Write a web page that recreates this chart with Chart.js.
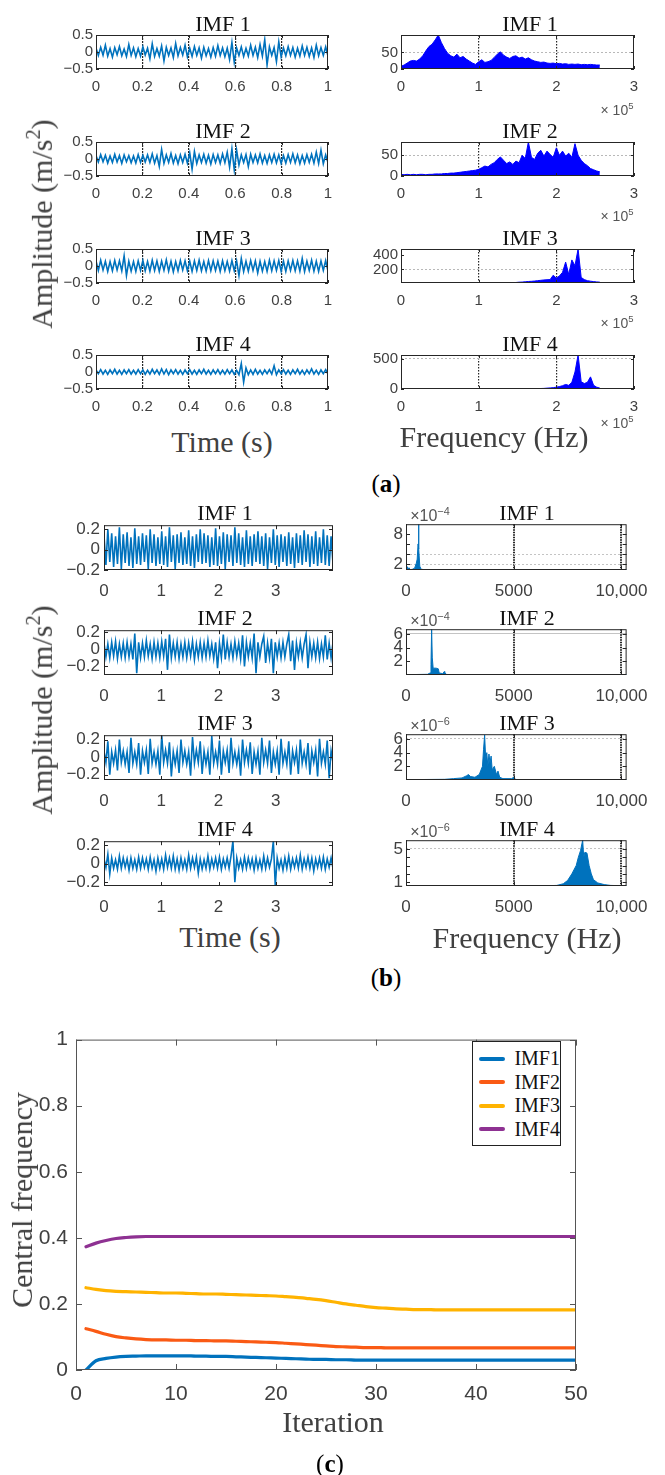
<!DOCTYPE html>
<html>
<head>
<meta charset="utf-8">
<script src="https://cdn.jsdelivr.net/npm/chart.js@4.4.1/dist/chart.umd.min.js"></script>
<style>
  html, body { margin: 0; padding: 0; background: #fff; }
  #page { position: relative; width: 665px; height: 1475px; overflow: hidden; }
  canvas { position: absolute; }
  .txt { position: absolute; white-space: nowrap; transform: translate(-50%, -50%); line-height: 1;
         font-family: 'Liberation Serif', 'DejaVu Serif', serif; color: #404040; }
  .ttl { font-size: 22px; color: #111; }
  .lab { font-size: 30px; }
  .vert { transform: translate(-50%, -50%) rotate(-90deg); }
  .tag { font-size: 25px; color: #000; }
  .exp { font-family: 'Liberation Sans', sans-serif; font-size: 14px; color: #555; }
  .exp.big { font-size: 16px; }
  sup { font-size: 0.68em; vertical-align: 0.6em; }
  #legend { position: absolute; left: 472px; top: 1041px; width: 89px; height: 105px; box-sizing: border-box;
            border: 1px solid #222; background: #fff; padding-top: 5px; }
  #legend .row { height: 23.5px; display: flex; align-items: center; }
  #legend .sw { width: 29px; height: 4px; border-radius: 2px; margin-left: 6px; }
  #legend .nm { margin-left: 9px; font: 20px 'Liberation Serif', serif; color: #111; }
</style>
</head>
<body>
<div id="page"></div>
<script>
// (a) IMF time series, 0-1 s
const aTime1 = [.12,-.1,.14,-.09,.2,-.12,.1,-.15,.13,-.08,.16,-.11,.09,-.13,.22,-.1,.12,-.14,.1,-.12,
  .15,-.09,.11,-.2,.24,-.13,.1,-.12,.18,-.26,.14,-.1,.12,-.16,.25,-.11,.13,-.09,.2,-.14,
  .11,-.13,.16,-.1,.12,-.18,.14,-.11,.1,-.15,.13,-.12,.19,-.1,.12,-.14,.11,-.22,.28,-.3,
  .12,-.1,.15,-.13,.11,-.12,.2,-.1,.14,-.16,.22,-.12,.36,-.38,.15,-.1,.13,-.28,.3,-.14,
  .12,-.11,.16,-.1,.13,-.15,.11,-.12,.18,-.1,.14,-.13,.12,-.16,.2,-.11,.13,-.1,.15,-.12];
const aTime2 = [.1,-.09,.13,-.08,.11,-.12,.09,-.1,.14,-.09,.1,-.13,.12,-.08,.1,-.11,.09,-.12,.13,-.1,
  .11,-.09,.12,-.1,.15,-.12,.1,-.22,.28,-.13,.12,-.1,.16,-.12,.1,-.14,.12,-.1,.14,-.12,
  .18,-.3,.22,-.13,.12,-.1,.14,-.12,.11,-.15,.13,-.1,.12,-.13,.15,-.11,.2,-.24,.3,-.32,
  .26,-.18,.12,-.1,.13,-.22,.14,-.1,.12,-.11,.15,-.12,.1,-.13,.12,-.1,.14,-.11,.12,-.13,
  .1,-.12,.13,-.1,.15,-.11,.12,-.14,.1,-.12,.13,-.1,.14,-.12,.2,-.13,.26,-.14,.12,-.1];
const aTime3 = [.15,-.13,.17,-.12,.14,-.16,.13,-.14,.16,-.12,.15,-.14,.3,-.28,.14,-.15,.13,-.16,.15,-.13,
  .16,-.14,.13,-.15,.17,-.13,.15,-.16,.14,-.13,.18,-.15,.14,-.17,.13,-.14,.16,-.12,.15,-.14,
  .14,-.16,.15,-.13,.17,-.14,.13,-.15,.16,-.14,.15,-.13,.14,-.16,.15,-.14,.13,-.15,.16,-.14,
  .15,-.28,.22,-.16,.14,-.15,.16,-.13,.15,-.2,.14,-.15,.13,-.16,.17,-.14,.15,-.13,.16,-.15,
  .14,-.16,.15,-.13,.16,-.14,.15,-.15,.22,-.16,.14,-.13,.17,-.15,.14,-.16,.15,-.13,.16,-.15];
const aTime4 = [.06,-.05,.07,-.06,.05,-.07,.06,-.05,.08,-.06,.05,-.07,.06,-.05,.07,-.06,.05,-.06,.07,-.05,
  .06,-.07,.05,-.06,.08,-.05,.06,-.07,.09,-.06,.07,-.08,.06,-.05,.07,-.06,.05,-.07,.06,-.05,
  .07,-.06,.05,-.07,.06,-.05,.08,-.06,.05,-.07,.06,-.05,.07,-.06,.05,-.06,.07,-.05,.06,-.07,
  .05,-.08,.25,-.3,.12,-.08,.06,-.07,.08,-.06,.05,-.07,.06,-.05,.07,-.06,.18,-.08,.06,-.05,
  .07,-.06,.05,-.07,.06,-.05,.08,-.06,.05,-.07,.06,-.05,.09,-.06,.05,-.07,.06,-.05,.07,-.06];

// (a) spectra, one value per 4 kHz bin from 0 to 256 kHz
const aSpecBin = 4000;
const aSpec1 = [8,12,18,24,26,24,30,40,55,68, 75,88,103,80,62,48,40,36,45,34,
  38,30,24,18,14,22,28,20,22,26, 35,45,52,42,36,32,38,40,33,36,
  30,34,28,24,22,20,21,18,17,18, 16,17,15,16,14,15,14,15,13,14, 13,14,13,12,12];
const aSpec2 = [4,3,4,3,4,3,4,4,3,4, 4,5,5,5,6,6,7,7,8,9,
  10,11,12,13,14,16,20,24,22,28, 32,40,46,38,30,34,28,36,32,50,
  42,82,45,40,55,62,48,60,52,45, 68,50,60,48,55,45,78,50,38,30, 25,18,15,12,10];
const aSpec3 = [14,14,14,14,14,14,14,14,14,14, 14,14,14,14,14,14,14,14,14,14,
  14,14,14,14,14,14,14,14,14,14, 14,14,14,15,16,17,18,20,24,26,
  30,34,36,40,45,50,55,58,60,120, 80,110,160,300,130,330,250,480,90,60, 45,38,32,28,25];
const aSpec4 = [2,2,2,2,2,2,2,2,2,2, 2,2,2,2,2,2,2,2,2,2,
  2,2,2,2,2,2,2,2,2,2, 2,2,2,2,2,2,2,2,2,2,
  2,3,4,5,6,8,10,14,18,22, 30,40,55,75,60,110,280,560,120,90, 110,200,60,30,15];

// (b) IMF time series, 0-4 s
const bTime1 = [.14,-.15,.2,-.12,.16,-.17,.13,-.14,.22,-.19,.15,-.13,.17,-.16,.12,-.18,.21,-.14,.13,-.15,
  .16,-.12,.14,-.19,.2,-.13,.15,-.16,.12,-.14,.18,-.15,.13,-.17,.22,-.12,.14,-.19,.15,-.13,
  .17,-.15,.12,-.14,.19,-.16,.13,-.18,.15,-.12,.2,-.14,.16,-.13,.14,-.17,.12,-.15,.21,-.16,
  .13,-.14,.17,-.19,.15,-.12,.14,-.16,.22,-.13,.16,-.15,.12,-.17,.19,-.14,.13,-.16,.15,-.12,
  .18,-.14,.13,-.16,.16,-.19,.12,-.13,.2,-.15,.14,-.17,.15,-.12,.13,-.16,.17,-.14,.12,-.18,
  .16,-.13,.14,-.15,.19,-.12,.15,-.17,.13,-.14,.18,-.16,.12,-.13,.2,-.15,.14,-.16,.13,-.14];
const bTime2 = [.07,-.09,.06,-.1,.08,-.08,.09,-.11,.06,-.09,.07,-.1,.08,-.09,.06,-.12,.18,-.28,.08,-.1,
  .07,-.09,.1,-.08,.06,-.11,.08,-.09,.07,-.1,.09,-.08,.12,-.24,.17,-.1,.07,-.09,.08,-.11,
  .06,-.09,.08,-.1,.07,-.08,.09,-.12,.06,-.09,.08,-.1,.07,-.09,.1,-.08,.06,-.11,.08,-.22,
  .07,-.1,.17,-.12,.08,-.09,.06,-.1,.09,-.08,.07,-.11,.16,-.2,.08,-.09,.07,-.1,.18,-.28,
  .08,-.09,.06,.15,-.16,.07,-.1,.12,-.28,.08,-.09,.07,-.1,.08,-.09,.06,.17,-.14,.1,-.24,
  .07,-.09,.08,-.1,.06,.17,-.22,.08,-.09,.07,-.1,.08,-.11,.06,-.09,.16,-.12,.07,-.1,.08];
const bTime3 = [.07,-.06,.18,-.2,.06,-.07,.08,-.15,.2,-.06,.07,-.08,.06,-.18,.22,-.07,.06,-.08,.16,-.2,
  .07,-.06,.08,-.19,.21,-.07,.06,-.08,.07,-.2,.25,-.06,.08,-.07,.17,-.22,.06,-.08,.07,-.18,
  .2,-.06,.07,-.08,.06,-.21,.23,-.07,.08,-.06,.18,-.19,.07,-.08,.06,-.2,.24,-.07,.06,-.08,
  .19,-.2,.07,-.06,.08,-.18,.22,-.07,.06,-.08,.07,-.21,.2,-.06,.08,-.07,.17,-.19,.06,-.08,
  .07,-.2,.22,-.06,.08,-.07,.19,-.18,.06,-.08,.07,-.2,.21,-.07,.06,-.08,.18,-.2,.07,-.06,
  .08,-.19,.2,-.07,.06,-.08,.16,-.2,.07,-.06,.08,-.22,.21,-.07,.06,-.08,.19,-.24,.07,-.06];
const bTime4 = [.05,-.04,.1,-.11,.06,-.05,.04,-.06,.08,-.05,.06,-.04,.05,-.07,.06,-.05,.04,-.06,.07,-.05,
  .06,-.04,.05,-.06,.07,-.05,.04,-.08,.06,-.05,.05,-.06,.09,-.04,.06,-.05,.08,-.06,.05,-.07,
  .06,-.05,.04,-.06,.09,-.05,.06,-.04,.07,-.1,.05,-.06,.04,-.05,.08,-.06,.05,-.04,.06,-.05,
  .07,-.06,.05,-.04,.06,-.05,.08,.24,-.2,.06,-.05,.04,-.06,.07,-.05,.06,-.04,.05,-.07,.06,
  -.05,.04,-.06,.08,-.05,.06,-.04,.05,.24,-.24,.06,-.05,.04,-.07,.06,-.05,.08,-.06,.05,-.04,
  .06,-.05,.09,-.06,.05,-.04,.07,-.05,.06,-.08,.05,-.04,.06,-.05,.07,-.06,.05,-.04,.06,-.05];

// (b) spectra: frequency (Hz) and amplitude (IMF1-2 in 1e-4, IMF3-4 in 1e-6)
const bFreq1 = [0,60,100,140,200,300,400,480,520,560,580,600,640,700,900,10240];
const bSpec1 = [0.9,1.5,1.1,1.3,0.9,1.0,1.2,2.2,3.0,6.0,9.9,5.0,1.6,1.0,0.9,0.9];
const bFreq2 = [0,1000,1120,1160,1190,1220,1260,1400,1500,1540,1700,1780,1800,1850,2000,10240];
const bSpec2 = [0.05,0.1,0.3,1.5,6.7,2.5,1.0,1.0,0.9,0.3,0.2,0.5,0.4,0.1,0.05,0.05];
const bFreq3 = [0,1800,2200,2600,2800,2900,3000,3200,3400,3550,3600,3650,3700,3750,3800,3850,3900,3950,4000,4100,4200,4270,4350,4500,4900,5000,5100,10240];
const bSpec3 = [0.05,0.1,0.2,0.3,0.6,0.8,0.5,0.4,0.8,2.0,4.5,6.6,3.0,4.0,2.0,3.8,2.5,3.5,1.5,2.0,0.8,1.3,0.4,0.2,0.2,0.4,0.05,0.05];
const bFreq4 = [0,6500,7000,7300,7500,7700,7900,8000,8100,8200,8250,8300,8400,8500,8600,8700,8900,9200,9500,10240];
const bSpec4 = [0.55,0.56,0.6,0.8,1.2,2.0,3.0,4.0,4.8,6.06,4.0,4.6,4.5,3.0,2.0,1.3,0.9,0.7,0.6,0.55];

// (c) central frequency of each mode over 50 iterations
const cImf1 = [0,0.028,0.035,0.039,0.041,0.042,0.043,0.043,0.043,0.043,
  0.043,0.042,0.042,0.041,0.041,0.040,0.039,0.038,0.037,0.036,
  0.035,0.034,0.033,0.032,0.032,0.031,0.031,0.030,0.030,0.030,
  0.030,0.030,0.030,0.030,0.030,0.030,0.030,0.030,0.030,0.030,
  0.030,0.030,0.030,0.030,0.030,0.030,0.030,0.030,0.030,0.030];
const cImf2 = [0.125,0.117,0.108,0.101,0.097,0.094,0.092,0.091,0.091,0.090,
  0.090,0.089,0.089,0.088,0.088,0.087,0.086,0.085,0.084,0.083,
  0.081,0.079,0.077,0.075,0.073,0.071,0.070,0.069,0.068,0.068,
  0.067,0.067,0.067,0.067,0.067,0.067,0.067,0.067,0.067,0.067,
  0.067,0.067,0.067,0.067,0.067,0.067,0.067,0.067,0.067,0.067];
const cImf3 = [0.249,0.244,0.240,0.238,0.237,0.236,0.235,0.234,0.233,0.233,
  0.232,0.231,0.230,0.230,0.229,0.228,0.227,0.226,0.225,0.224,
  0.222,0.220,0.217,0.214,0.210,0.205,0.200,0.196,0.192,0.189,
  0.187,0.185,0.184,0.183,0.183,0.182,0.182,0.182,0.182,0.182,
  0.182,0.182,0.182,0.182,0.182,0.182,0.182,0.182,0.182,0.182];
const cImf4 = [0.373,0.384,0.392,0.398,0.401,0.403,0.404,0.404,0.404,0.404,
  0.404,0.404,0.404,0.404,0.404,0.404,0.404,0.404,0.404,0.404,
  0.404,0.404,0.404,0.404,0.404,0.404,0.404,0.404,0.404,0.404,
  0.404,0.404,0.404,0.404,0.404,0.404,0.404,0.404,0.404,0.404,
  0.404,0.404,0.404,0.404,0.404,0.404,0.404,0.404,0.404,0.404];

// tick positions
const aTimeTicks = [0, 0.2, 0.4, 0.6, 0.8, 1];
const aAmpTicks = [-0.5, 0, 0.5];
const aFreqTicks = [0, 1e5, 2e5, 3e5];
const bTimeTicks = [0, 1, 2, 3];
const bAmpTicks = [-0.2, 0, 0.2];
const bFreqTicks = [0, 5000, 10000];
const cIterTicks = [0, 10, 20, 30, 40, 50];
const cFreqTicks = [0, 0.2, 0.4, 0.6, 0.8, 1];

const page = document.getElementById('page');
const MBLUE = '#0072BD';

function addText(html, x, y, cls) {
  const d = document.createElement('div');
  d.className = 'txt ' + cls;
  d.innerHTML = html;
  d.style.left = x + 'px';
  d.style.top = y + 'px';
  page.appendChild(d);
  return d;
}

// box outline with inward tick marks on all four sides
const frame = {
  id: 'frame',
  afterDatasetsDraw(chart, args, opts) {
    const { ctx, chartArea: a, scales } = chart;
    ctx.save();
    ctx.strokeStyle = opts.color;
    ctx.lineWidth = 1;
    ctx.strokeRect(a.left + 0.5, a.top + 0.5, a.width - 1, a.height - 1);
    ctx.beginPath();
    scales.x.ticks.forEach(t => {
      const p = Math.round(scales.x.getPixelForValue(t.value)) + 0.5;
      ctx.moveTo(p, a.bottom); ctx.lineTo(p, a.bottom - opts.tick);
      ctx.moveTo(p, a.top); ctx.lineTo(p, a.top + opts.tick);
    });
    scales.y.ticks.forEach(t => {
      const p = Math.round(scales.y.getPixelForValue(t.value)) + 0.5;
      ctx.moveTo(a.left, p); ctx.lineTo(a.left + opts.tick, p);
      ctx.moveTo(a.right, p); ctx.lineTo(a.right - opts.tick, p);
    });
    ctx.stroke();
    ctx.restore();
  }
};

const minus = v => String(v).replace('-', '\u2212');

function axis(min, max, ticks, o) {
  const grid = o.grid || [];
  return {
    type: 'linear', min, max,
    afterBuildTicks: s => { s.ticks = ticks.map(v => ({ value: v })); },
    ticks: {
      autoSkip: false, maxRotation: 0, padding: o.pad, color: '#404040',
      font: { family: o.family || "'Liberation Sans', sans-serif", size: o.font },
      callback: o.label || minus
    },
    grid: {
      drawTicks: false,
      color: c => (c.tick && grid.includes(c.tick.value)) ? o.gridColor : 'rgba(0,0,0,0)',
      lineWidth: o.gridWidth || 1
    },
    border: { display: false, dash: o.dash || [] }
  };
}

function plot(box, m, xAxis, yAxis, datasets, frameOpts) {
  const cv = document.createElement('canvas');
  const W = box.w + m.l + m.r, H = box.h + m.t + m.b;
  cv.width = W; cv.height = H;
  cv.style.left = (box.x - m.l) + 'px';
  cv.style.top = (box.y - m.t) + 'px';
  cv.style.width = W + 'px';
  cv.style.height = H + 'px';
  page.appendChild(cv);
  xAxis.afterFit = s => { s.height = m.b; };
  yAxis.afterFit = s => { s.width = m.l; };
  return new Chart(cv, {
    type: 'line',
    data: { datasets },
    plugins: [frame],
    options: {
      responsive: false, animation: false, devicePixelRatio: 1,
      layout: { padding: { left: 0, top: m.t, right: m.r, bottom: 0 }, autoPadding: false },
      plugins: { legend: { display: false }, tooltip: { enabled: false }, frame: frameOpts },
      elements: { point: { radius: 0 }, line: { tension: 0 } },
      scales: { x: xAxis, y: yAxis }
    }
  });
}

function series(vals, t0, t1) {
  const dt = (t1 - t0) / (vals.length - 1);
  return vals.map((v, i) => ({ x: t0 + i * dt, y: v }));
}

// ---------- (a) ----------
const aTops = [33, 140, 247, 353];
const aTimes = [aTime1, aTime2, aTime3, aTime4];
const aSpecs = [aSpec1, aSpec2, aSpec3, aSpec4];
const aSpecRange = [[0, 103], [0, 82], [13, 480], [0, 560]];
const aSpecTicks = [[0, 50], [0, 50], [200, 400], [0, 500]];
const aSpecGrid = [[50], [50], [200], [500]];
const aMargin = { l: 45, t: 10, r: 14, b: 28 };
const dark = 'rgba(15,15,15,0.9)';

aTops.forEach((top, k) => {
  plot({ x: 96, y: top, w: 232, h: 36 }, aMargin,
    axis(0, 1, aTimeTicks, { pad: 9, font: 15, grid: [0.2, 0.4, 0.6, 0.8], gridColor: dark, dash: [2, 1], gridWidth: 1.2 }),
    axis(-0.5, 0.5, aAmpTicks, { pad: 3, font: 15 }),
    [{ data: series(aTimes[k], 0, 1), borderColor: MBLUE, borderWidth: 1.6, clip: 0 }],
    { color: '#262626', tick: 3 });

  plot({ x: 401, y: top, w: 233, h: 36 }, aMargin,
    axis(0, 3e5, aFreqTicks, { pad: 9, font: 15, label: v => String(v / 1e5), grid: [1e5, 2e5], gridColor: dark, dash: [1.5, 1.5], gridWidth: 1.2 }),
    axis(aSpecRange[k][0], aSpecRange[k][1], aSpecTicks[k], { pad: 3, font: 15, grid: aSpecGrid[k], gridColor: '#b8b8b8', dash: [2, 2] }),
    [{ data: aSpecs[k].map((v, i) => ({ x: i * aSpecBin, y: v })), borderColor: '#0000FF', backgroundColor: '#0000FF', borderWidth: 1, fill: 'start', clip: 0 }],
    { color: '#262626', tick: 3 });

  addText('IMF ' + (k + 1), 223, top - 9, 'ttl');
  addText('IMF ' + (k + 1), 530, top - 9, 'ttl');
});
[109, 215, 322, 422].forEach(y => addText('\u00d7 10<sup>5</sup>', 617, y, 'exp'));
addText('Amplitude (m/s<sup>2</sup>)', 40, 224, 'lab vert');
addText('Time (s)', 222, 442, 'lab');
addText('Frequency (Hz)', 494, 437, 'lab');
addText('(<b>a</b>)', 386, 483, 'tag');

// ---------- (b) ----------
const bTops = [523, 628, 733, 839];
const bTimes = [bTime1, bTime2, bTime3, bTime4];
const bAmpRange = [[-0.2, 0.24], [-0.3, 0.22], [-0.26, 0.25], [-0.24, 0.24]];
const bFreqs = [bFreq1, bFreq2, bFreq3, bFreq4];
const bSpecs = [bSpec1, bSpec2, bSpec3, bSpec4];
const bSpecRange = [[0.85, 9.9], [0, 6.7], [0, 6.7], [0.53, 6.06]];
const bSpecTicks = [[2, 4, 6, 8], [2, 4, 6], [2, 4, 6], [1, 2, 3, 4, 5]];
const bSpecShown = [[2, 8], [2, 4, 6], [2, 4, 6], [1, 5]];
const bSpecGrid = [[2, 4], [6], [6], [5]];
const bSpecExp = ['\u22124', '\u22124', '\u22126', '\u22126'];
const bMargin = { l: 50, t: 12, r: 24, b: 32 };

bTops.forEach((top, k) => {
  plot({ x: 104, y: top, w: 229, h: 47 }, bMargin,
    axis(0, 4, bTimeTicks, { pad: 11, font: 17 }),
    axis(bAmpRange[k][0], bAmpRange[k][1], bAmpTicks, { pad: 4, font: 17 }),
    [{ data: series(bTimes[k], 0, 4), borderColor: MBLUE, borderWidth: 1.6, clip: 0 }],
    { color: '#262626', tick: 4 });

  const shown = bSpecShown[k];
  plot({ x: 406, y: top, w: 229, h: 47 }, bMargin,
    axis(0, 10240, bFreqTicks, { pad: 11, font: 17, label: v => v === 10000 ? '10,000' : String(v), grid: [5000, 10000], gridColor: dark, dash: [1.5, 1], gridWidth: 2 }),
    axis(bSpecRange[k][0], bSpecRange[k][1], bSpecTicks[k], { pad: 3, font: 17, label: v => shown.includes(v) ? String(v) : '', grid: bSpecGrid[k], gridColor: '#c4c4c4', dash: k === 1 ? [] : [2, 2] }),
    [{ data: bFreqs[k].map((f, i) => ({ x: f, y: bSpecs[k][i] })), borderColor: MBLUE, backgroundColor: MBLUE, borderWidth: 1, fill: 'start', clip: 0 }],
    { color: '#262626', tick: 4 });

  addText('IMF ' + (k + 1), 225, top - 10, 'ttl');
  addText('IMF ' + (k + 1), 527, top - 10, 'ttl');
  addText('\u00d710<sup>' + bSpecExp[k] + '</sup>', 430, top - 8, 'exp big');
});
addText('Amplitude (m/s<sup>2</sup>)', 40, 710, 'lab vert');
addText('Time (s)', 230, 937, 'lab');
addText('Frequency (Hz)', 527, 938, 'lab');
addText('(<b>b</b>)', 386, 977, 'tag');

// ---------- (c) ----------
const cNames = ['IMF1', 'IMF2', 'IMF3', 'IMF4'];
const cColors = ['#0072BD', '#FA5A14', '#FFB300', '#8E3192'];
const cSeries = [cImf1, cImf2, cImf3, cImf4];
const narrow = "'Liberation Sans Narrow', 'Liberation Sans', sans-serif";

const cChart = plot({ x: 76, y: 1035, w: 500, h: 335 }, { l: 66, t: 16, r: 24, b: 40 },
  axis(0, 50, cIterTicks, { pad: 12, font: 21, family: narrow }),
  axis(0, 1, cFreqTicks, { pad: 8, font: 21, family: narrow }),
  cSeries.map((vals, k) => ({
    label: cNames[k],
    data: vals.map((v, i) => ({ x: i + 1, y: v })),
    borderColor: cColors[k], borderWidth: 3.2, cubicInterpolationMode: 'monotone', borderCapStyle: 'round'
  })),
  { color: '#555', tick: 6 });

const legend = document.createElement('div');
legend.id = 'legend';
cChart.data.datasets.forEach(ds => {
  const row = document.createElement('div');
  row.className = 'row';
  row.innerHTML = '<span class="sw" style="background:' + ds.borderColor + '"></span><span class="nm">' + ds.label + '</span>';
  legend.appendChild(row);
});
page.appendChild(legend);

addText('Central frequency', 22, 1200, 'lab vert');
addText('Iteration', 333, 1422, 'lab');
addText('(<b>c</b>)', 330, 1463, 'tag');
</script>
</body>
</html>
